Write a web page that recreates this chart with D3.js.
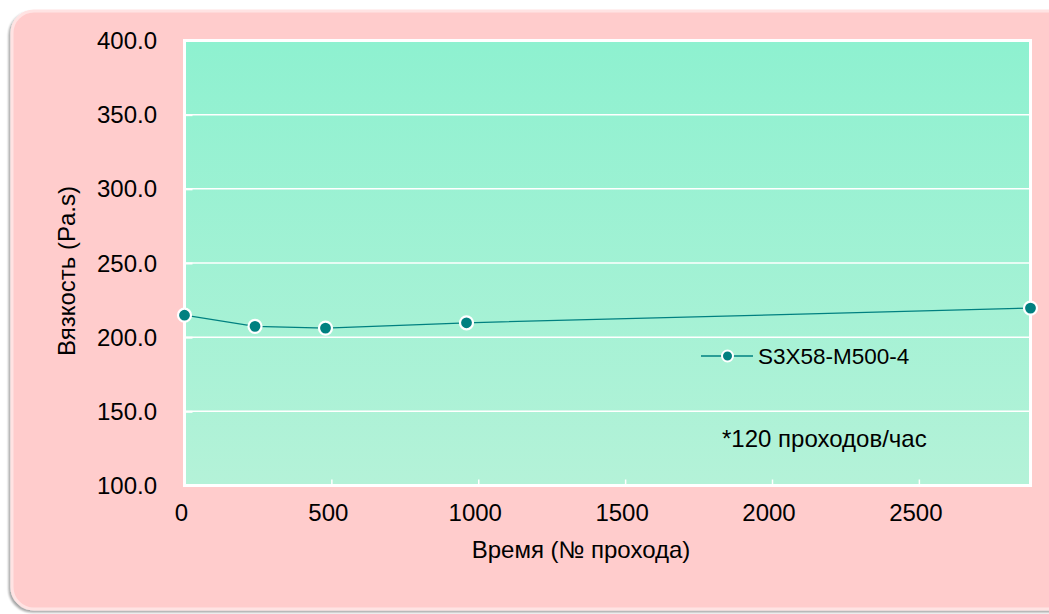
<!DOCTYPE html>
<html><head><meta charset="utf-8">
<script src="https://cdn.jsdelivr.net/npm/d3@7"></script>
<style>html,body{margin:0;padding:0;background:#fff;}svg{display:block;}</style>
</head><body>
<script>
const passes = [0, 240, 480, 960, 2880];
const viscosity = [214.8, 207.3, 206.1, 209.7, 219.6];
const seriesName = "S3X58-M500-4";
const xTicks = [0, 500, 1000, 1500, 2000, 2500];
const yTicks = [100, 150, 200, 250, 300, 350, 400];
const xTitle = "Время (№ прохода)";
const yTitle = "Вязкость (Pa.s)";
const note = "*120 проходов/час";

const W = 1049, H = 614;
const svg = d3.select("body").append("svg").attr("width", W).attr("height", H);
const defs = svg.append("defs");
const grad = defs.append("linearGradient").attr("id","bg").attr("x1",0).attr("y1",0).attr("x2",0).attr("y2",1);
grad.append("stop").attr("offset","0%").attr("stop-color","#8ef1d0");
grad.append("stop").attr("offset","100%").attr("stop-color","#b4f2d8");
const f = defs.append("filter").attr("id","sh").attr("x","-5%").attr("y","-5%").attr("width","110%").attr("height","110%");
f.append("feGaussianBlur").attr("in","SourceAlpha").attr("stdDeviation",1.2).attr("result","b");
f.append("feOffset").attr("in","b").attr("dx",-2).attr("dy",2).attr("result","o");
f.append("feComponentTransfer").attr("in","o").attr("result","o2").append("feFuncA").attr("type","linear").attr("slope",0.35);
const m = f.append("feMerge"); m.append("feMergeNode").attr("in","o2"); m.append("feMergeNode").attr("in","SourceGraphic");

// panel
svg.append("rect").attr("x",12).attr("y",11).attr("width",1070).attr("height",598).attr("rx",22)
  .attr("fill","#ffcccc").attr("stroke","#ffe3e3").attr("stroke-width",3).attr("filter","url(#sh)");

const L = 184.5, R = 1030.5, T = 40.5, B = 485.5;
const x = d3.scaleLinear().domain([0, 2880]).range([L, R]);
const y = d3.scaleLinear().domain([100, 400]).range([B, T]);
const font = "Liberation Sans, Arial, sans-serif";

svg.append("rect").attr("x",L).attr("y",T).attr("width",R-L).attr("height",B-T).attr("fill","url(#bg)");

// grid
svg.append("g").selectAll("line").data(yTicks.slice(1,-1)).join("line")
  .attr("x1",L).attr("x2",R).attr("y1",d=>y(d)).attr("y2",d=>y(d))
  .attr("stroke","#fff").attr("stroke-width",1.5);

// axes
const ya = svg.append("g").attr("transform",`translate(${L},0)`)
  .call(d3.axisRight(y).tickValues(yTicks).tickSize(8).tickFormat(""));
ya.select(".domain").remove();
ya.selectAll("line").attr("stroke","#fff").attr("stroke-width",2);
const xa = svg.append("g").attr("transform",`translate(0,${B})`)
  .call(d3.axisTop(x).tickValues(xTicks).tickSize(6).tickFormat(""));
xa.select(".domain").remove();
xa.selectAll("line").attr("stroke","#fff").attr("stroke-width",1.5);

svg.append("rect").attr("x",L).attr("y",T).attr("width",R-L).attr("height",B-T)
  .attr("fill","none").attr("stroke","#fff").attr("stroke-width",3);

// tick labels
svg.append("g").selectAll("text").data(yTicks).join("text")
  .attr("x",157).attr("y",d=>y(d)).attr("dy","0.36em").attr("text-anchor","end")
  .attr("font-family",font).attr("font-size",24).attr("fill","#000").text(d=>d3.format(".1f")(d));
svg.append("g").selectAll("text").data(xTicks).join("text")
  .attr("x",d=>x(d)-3).attr("y",521).attr("text-anchor","middle")
  .attr("font-family",font).attr("font-size",24).attr("fill","#000").text(d=>d);

// titles
svg.append("text").attr("x",581).attr("y",558).attr("text-anchor","middle")
  .attr("font-family",font).attr("font-size",24).text(xTitle);
svg.append("text").attr("transform","translate(75,271) rotate(-90)").attr("text-anchor","middle")
  .attr("font-family",font).attr("font-size",24).text(yTitle);

// series
const pts = passes.map((p,i)=>({x:p, y:viscosity[i]}));
svg.append("path").datum(pts)
  .attr("d", d3.line().x(d=>x(d.x)).y(d=>y(d.y)))
  .attr("fill","none").attr("stroke","#008080").attr("stroke-width",1.3);
svg.append("g").selectAll("circle").data(pts).join("circle")
  .attr("cx",d=>x(d.x)).attr("cy",d=>y(d.y)).attr("r",6.5)
  .attr("fill","#008080").attr("stroke","#fff").attr("stroke-width",2.2);

// legend
const lg = svg.append("g");
lg.append("line").attr("x1",701).attr("x2",753).attr("y1",356).attr("y2",356).attr("stroke","#008080").attr("stroke-width",1.3);
lg.append("circle").attr("cx",727.5).attr("cy",356).attr("r",5.5).attr("fill","#008080").attr("stroke","#fff").attr("stroke-width",2);
lg.append("text").attr("x",758).attr("y",364).attr("font-family",font).attr("font-size",22.5).text(seriesName);

svg.append("text").attr("x",722).attr("y",447).attr("font-family",font).attr("font-size",24).text(note);
</script>
</body></html>
